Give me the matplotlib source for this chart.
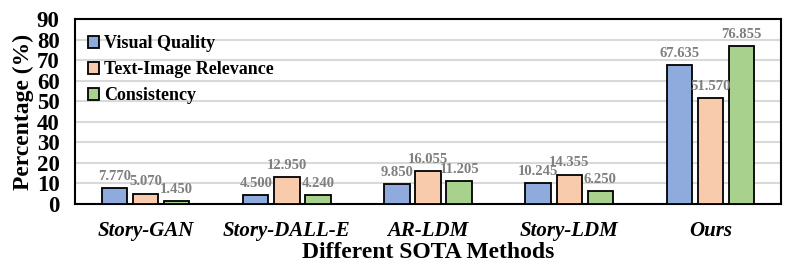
import matplotlib.pyplot as plt
import numpy as np

plt.rcParams['font.family'] = ['Liberation Serif', 'DejaVu Serif']

methods = ["Story-GAN", "Story-DALL-E", "AR-LDM", "Story-LDM", "Ours"]
visual_quality = [7.770, 4.500, 9.850, 10.245, 67.635]
text_image_rel = [5.070, 12.950, 16.055, 14.355, 51.570]
consistency = [1.450, 4.240, 11.205, 6.250, 76.855]

series = [
    ("Visual Quality", visual_quality, "#8FAADC"),
    ("Text-Image Relevance", text_image_rel, "#F8CBAD"),
    ("Consistency", consistency, "#A9D18E"),
]

fig = plt.figure(figsize=(7.89, 2.65), dpi=100)
ax = fig.add_axes([0.095, 0.23, 0.895, 0.698])

x = np.arange(len(methods))
width = 0.18
step = 0.22
for k, (name, vals, color) in enumerate(series):
    pos = x + (k - 1) * step
    ax.bar(pos, vals, width, color=color, edgecolor="black", linewidth=1.3,
           label=name, zorder=3)
    for px, v in zip(pos, vals):
        ax.text(px, v + 2.5, f"{v:.3f}", ha="center", va="bottom",
                fontsize=10.5, fontweight="bold", color="#7f7f7f", zorder=4)

ax.set_xlim(-0.5, len(methods) - 0.5)
ax.set_ylim(0, 90)
ax.set_yticks(np.arange(0, 91, 10))
ax.yaxis.grid(True, color="#d9d9d9", linewidth=1.5, zorder=0)
ax.set_axisbelow(True)
ax.tick_params(axis="y", length=0, pad=11)
for lbl in ax.get_yticklabels():
    lbl.set_fontsize(16.5)
    lbl.set_fontweight("bold")
ax.set_xticks(x)
ax.set_xticklabels(methods, fontsize=15, fontweight="bold", style="italic")
ax.tick_params(axis="x", length=0, pad=12)
for s in ax.spines.values():
    s.set_linewidth(1.5)

ax.set_ylabel("Percentage (%)", fontsize=17, fontweight="bold", labelpad=2)
ax.set_xlabel("Different SOTA Methods", fontsize=17, fontweight="bold", labelpad=1)

leg = ax.legend(loc="upper left", bbox_to_anchor=(0.0, 0.98), frameon=False,
                prop={"size": 13, "weight": "bold"}, handlelength=0.65,
                handleheight=0.65, handletextpad=0.25, labelspacing=0.5,
                borderaxespad=0.3)

fig.savefig("out.png", dpi=100)
